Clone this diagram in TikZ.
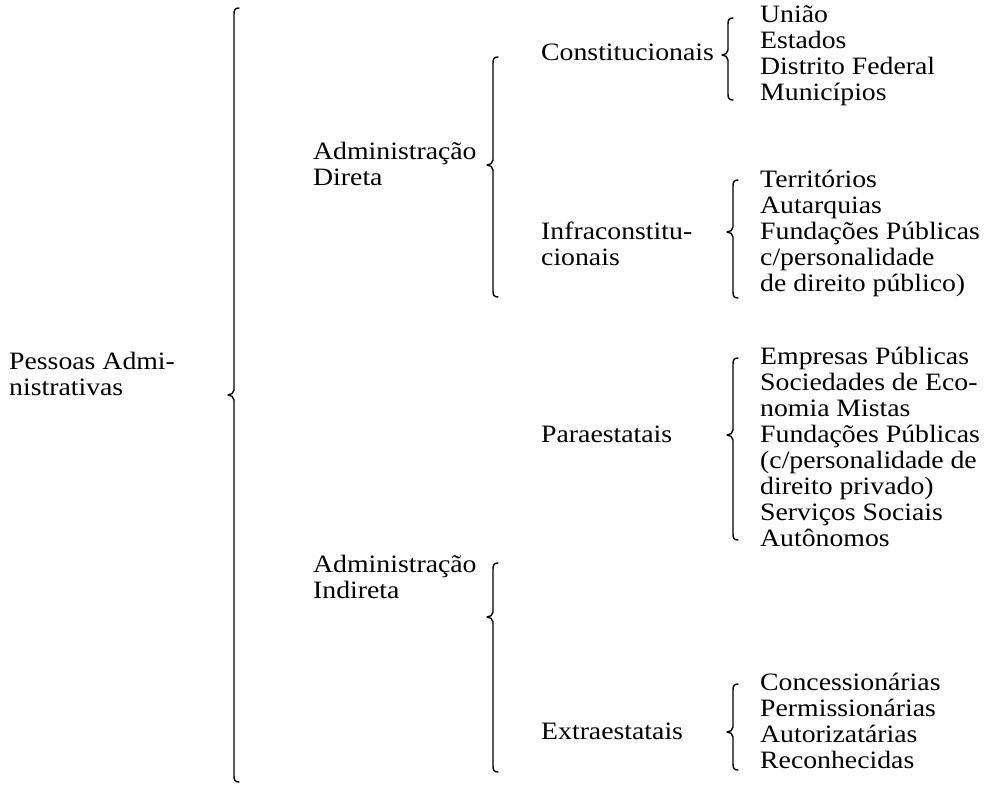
\documentclass[tikz,border=0pt]{standalone}
\usepackage{fontspec}
\setmainfont{Liberation Serif}[FakeStretch=1.11]
\tikzset{
  txt/.style={anchor=base west, inner sep=0pt, align=left, font=\fontsize{25}{26}\selectfont},
  bracestyle/.style={line width=1.4pt, line join=round, line cap=round}
}
% \cbrace{x}{top}{tip}{bottom}
\newcommand{\cbrace}[4]{%
  \draw[bracestyle] ({#1+5},#2) .. controls ({#1+1},#2) and (#1,{#2+2}) .. (#1,{#2+6})
    -- (#1,{#3-5}) .. controls (#1,{#3-2}) and ({#1-3},#3) .. ({#1-6},#3)
    .. controls ({#1-3},#3) and (#1,{#3+2}) .. (#1,{#3+5})
    -- (#1,{#4-6}) .. controls (#1,{#4-2}) and ({#1+1},#4) .. ({#1+5},#4);}
\begin{document}
\begin{tikzpicture}[x=1pt,y=-1pt]
\useasboundingbox (0,0) rectangle (984,790);
% anchor "base" of a multi-line node is the baseline of its last line
\node[txt] (pessoas) at (9,395) {Pessoas Admi-\\nistrativas};
\node[txt] (direta) at (313,185) {Administração\\Direta};
\node[txt] (indireta) at (313,598) {Administração\\Indireta};
\node[txt] (const) at (541,60) {Constitucionais};
\node[txt] (infra) at (541,265) {Infraconstitu-\\cionais};
\node[txt] (para) at (541,442) {Paraestatais};
\node[txt] (extra) at (541,739) {Extraestatais};
\node[txt] (l1) at (760,100) {União\\Estados\\Distrito Federal\\Municípios};
\node[txt] (l2) at (760,291) {Territórios\\Autarquias\\Fundações Públicas\\c/personalidade\\de direito público)};
\node[txt] (l3) at (760,546) {Empresas Públicas\\Sociedades de Eco-\\nomia Mistas\\Fundações Públicas\\(c/personalidade de\\direito privado)\\Serviços Sociais\\Autônomos};
\node[txt] (l4) at (760,768) {Concessionárias\\Permissionárias\\Autorizatárias\\Reconhecidas};
\cbrace{234}{8}{395}{782}
\cbrace{493}{57}{165}{297}
\cbrace{493}{563}{617}{772}
\cbrace{728}{18}{55}{100}
\cbrace{733}{180}{232}{298}
\cbrace{733}{358}{435}{540}
\cbrace{733}{684}{732}{770}
\end{tikzpicture}
\end{document}
